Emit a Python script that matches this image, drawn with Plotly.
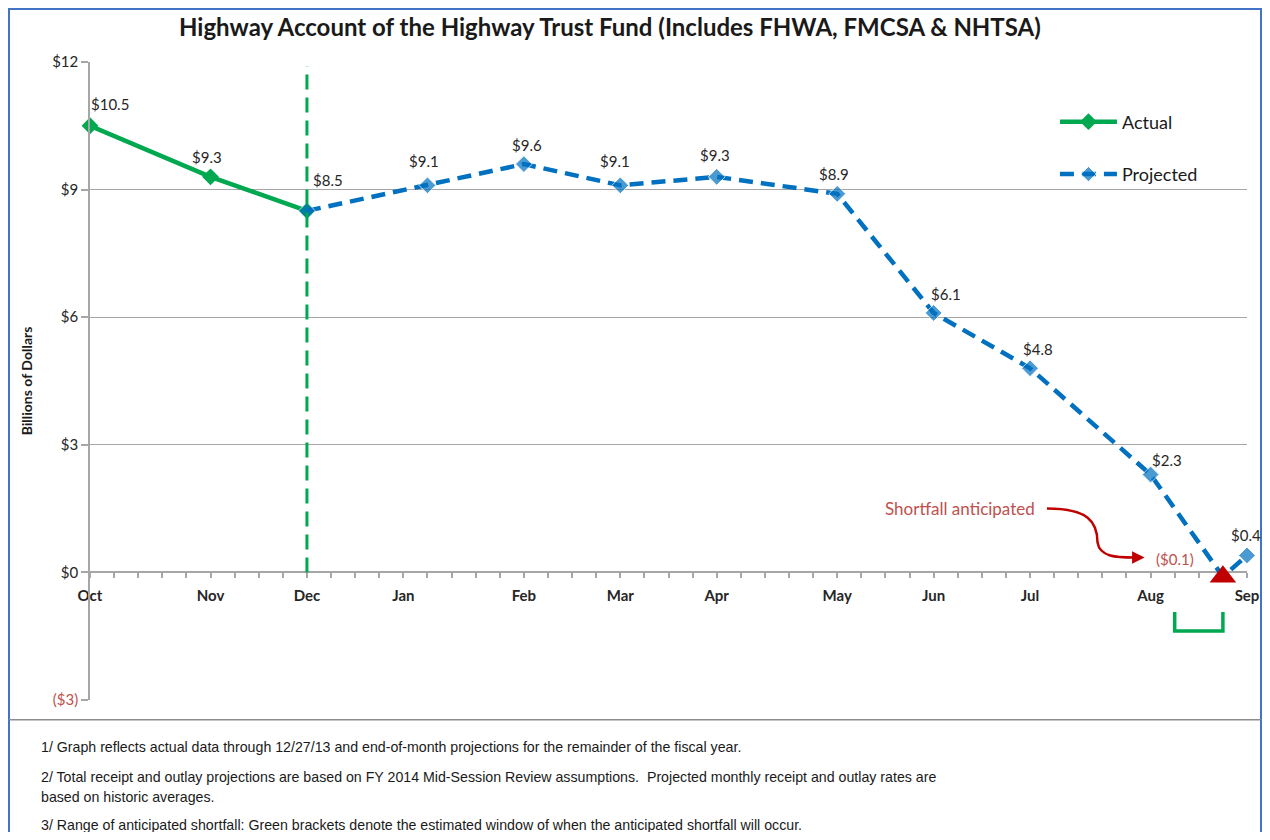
import plotly.graph_objects as go

# ---------------- data ----------------
month_labels = ["Oct", "Nov", "Dec", "Jan", "Feb", "Mar", "Apr", "May", "Jun", "Jul", "Aug", "Sep"]
month_week = [0, 5, 9, 13, 18, 22, 26, 31, 35, 39, 44, 48]   # week index of each month tick

actual_week = [0, 5, 9]
actual_val = [10.5, 9.3, 8.5]

proj_week = [9, 14, 18, 22, 26, 31, 35, 39, 44, 47, 48]
proj_val = [8.5, 9.1, 9.6, 9.1, 9.3, 8.9, 6.1, 4.8, 2.3, -0.1, 0.4]

shortfall_week = 47
shortfall_val = -0.1
shortfall_window = [45, 47]     # green bracket (weeks)
actual_through_week = 9          # vertical marker (Dec)

y_ticks = [-3, 0, 3, 6, 9, 12]
y_ticktext = ["<span style='color:#C0504D'>($3)</span>", "$0", "$3", "$6", "$9", "$12"]

footnotes = [
    "1/ Graph reflects actual data through 12/27/13 and end-of-month projections for the remainder of the fiscal year.",
    "2/ Total receipt and outlay projections are based on FY 2014 Mid-Session Review assumptions.  Projected monthly receipt and outlay rates are",
    "based on historic averages.",
    "3/ Range of anticipated shortfall: Green brackets denote the estimated window of when the anticipated shortfall will occur.",
]

# ---------------- styles ----------------
GREEN = "#00A84F"
BLUE = "#0070C0"
RED = "#C00000"
RED_TXT = "#C0504D"
GRID = "#A6A6A6"
FONT = "Lato, 'Open Sans', sans-serif"

fig = go.Figure()

fig.add_trace(go.Scatter(
    x=actual_week, y=actual_val, name="Actual", mode="lines+markers",
    line=dict(color=GREEN, width=4.5),
    marker=dict(symbol="diamond", size=13, color=GREEN),
    legendgroup="a", cliponaxis=False,
))

proj_sizes = [0 if w == shortfall_week else 13 for w in proj_week]
fig.add_trace(go.Scatter(
    x=proj_week, y=proj_val, name="Projected", mode="lines+markers",
    line=dict(color=BLUE, width=4.5, dash="14px,8px"),
    marker=dict(symbol="diamond", size=proj_sizes, color=BLUE),
    legendgroup="p", cliponaxis=False,
))

fig.add_trace(go.Scatter(
    x=[shortfall_week], y=[shortfall_val], mode="markers", showlegend=False,
    marker=dict(symbol="triangle-up", size=23, color=RED), cliponaxis=False,
))

# ---------------- data labels ----------------
def money(v):
    return f"(${abs(v):.1f})" if v < 0 else f"${v:.1f}"

LBL = 15
actual_shift = [(20, 22), (-4, 20), (21, 31)]
for w, v, (dx, dy) in zip(actual_week, actual_val, actual_shift):
    fig.add_annotation(x=w, y=v, text=money(v), showarrow=False, xshift=dx, yshift=dy,
                       font=dict(size=LBL, color="#262626", family=FONT))

proj_shift = [None, (-3, 24), (3, 19), (-5, 24), (-2, 22), (-3, 20), (12, 19), (8, 19), (16, 15), (-48, 18), (-1, 20)]
for w, v, s in zip(proj_week, proj_val, proj_shift):
    if s is None:
        continue
    col = RED_TXT if v < 0 else "#262626"
    fig.add_annotation(x=w, y=v, text=money(v), showarrow=False, xshift=s[0], yshift=s[1],
                       font=dict(size=LBL, color=col, family=FONT))

# ---------------- callout ----------------
fig.add_annotation(x=36.1, y=1.5, text="Shortfall anticipated", showarrow=False,
                   font=dict(size=17, color=RED_TXT, family=FONT))
fig.add_shape(type="path", xref="x", yref="y",
              path="M 39.7,1.5 C 41.4,1.5 41.8,1.2 41.8,0.7 C 41.9,0.36 42.6,0.35 43.3,0.35",
              line=dict(color=RED, width=2.5))
fig.add_annotation(x=43.75, y=0.35, ax=-14, ay=0, text="", showarrow=True,
                   arrowhead=2, arrowsize=1, arrowwidth=2.5, arrowcolor=RED)

# vertical "actual through" line
fig.add_shape(type="line", xref="x", yref="y", x0=actual_through_week, x1=actual_through_week,
              y0=0, y1=11.9, line=dict(color=GREEN, width=3, dash="15px,8px"))

# shortfall window bracket
b0, b1 = shortfall_window
fig.add_shape(type="path", xref="x", yref="y",
              path=f"M {b0},-0.93 L {b0},-1.38 L {b1},-1.38 L {b1},-0.93",
              line=dict(color=GREEN, width=3.5))

# ---------------- frame / footnotes ----------------
fig.add_shape(type="rect", xref="paper", yref="paper", x0=-0.0700, x1=1.0121, y0=-0.4, y1=1.083,
              line=dict(color="#4472C4", width=2), layer="below")
fig.add_shape(type="line", xref="paper", yref="paper", x0=-0.0700, x1=1.0121, y0=-0.031, y1=-0.031,
              line=dict(color="#8C8C8C", width=1.5))

foot_y = [-0.0737, -0.1207, -0.152, -0.196]
for t, yy in zip(footnotes, foot_y):
    fig.add_annotation(xref="paper", yref="paper", x=-0.0445, y=yy, xanchor="left", yanchor="middle",
                       text=t, showarrow=False,
                       font=dict(size=14.2, color="#1a1a1a", family="'Liberation Sans Narrow', 'Liberation Sans', Arial"))

fig.update_layout(
    width=1254, height=824,
    margin=dict(l=82, r=15, t=54, b=132),
    paper_bgcolor="white", plot_bgcolor="white",
    title=dict(text="<b>Highway Account of the Highway Trust Fund (Includes FHWA, FMCSA & NHTSA)</b>",
               x=0.48, xref="container", xanchor="center", y=0.976, yref="container", yanchor="middle",
               font=dict(size=24, color="#1a1a1a", family=FONT)),
    xaxis=dict(range=[0, 48], anchor="free", position=0.2, automargin=False, layer="below traces",
               showline=True, linecolor=GRID, linewidth=1.5,
               tickmode="array", tickvals=month_week,
               ticktext=[f"<b>{m}</b>" for m in month_labels],
               ticks="outside", ticklen=5, tickcolor=GRID, tickwidth=1.5,
               ticklabelstandoff=5,
               minor=dict(tickmode="array", tickvals=list(range(0, 49)), ticks="outside",
                          ticklen=5, tickcolor=GRID, tickwidth=1.5, showgrid=False),
               showgrid=False, zeroline=False,
               tickfont=dict(size=15, color="#262626", family=FONT)),
    yaxis=dict(range=[-3, 12], tickmode="array", tickvals=y_ticks, ticktext=y_ticktext,
               automargin=False,
               showline=True, linecolor=GRID, linewidth=1.5,
               ticks="outside", ticklen=7, tickcolor=GRID, tickwidth=1.5,
               showgrid=True, gridcolor=GRID, gridwidth=1, zeroline=False,
               tickfont=dict(size=15, color="#262626", family=FONT),
               title=dict(text="<b>Billions of Dollars</b>", standoff=16,
                          font=dict(size=14, color="#1a1a1a", family=FONT))),
    legend=dict(x=0.834, y=0.935, xanchor="left", yanchor="top", traceorder="grouped",
                tracegroupgap=26, itemwidth=57, bgcolor="rgba(0,0,0,0)",
                font=dict(size=18, color="#1a1a1a", family=FONT)),
    showlegend=True,
)

fig.write_html("out.html")
